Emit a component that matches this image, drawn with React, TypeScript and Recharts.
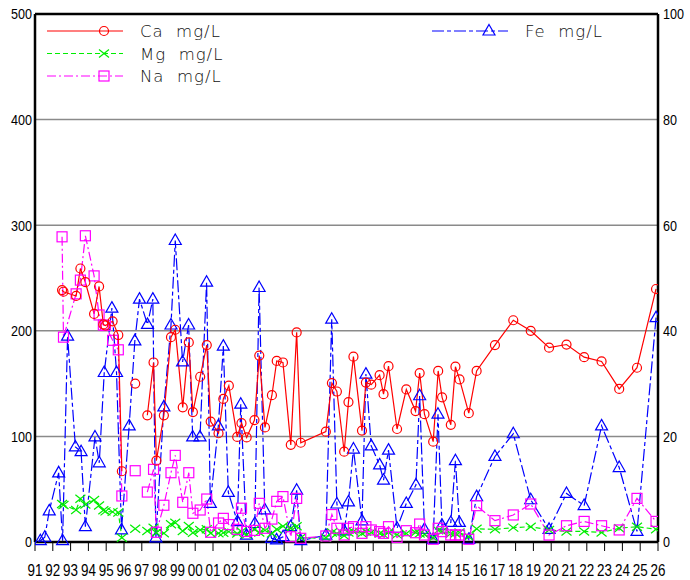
import React from 'react';
import { LineChart, Line, XAxis, YAxis, CartesianGrid, ReferenceLine, Legend } from 'recharts';

// Sample dates (decimal years) shared by Ca / Mg / Na; null rows break the lines
const ionYears = [
  1992.52, 1992.6, 1993.31, 1993.55, 1993.83, 1994.32, 1994.6, 1994.84, 1994.96, 1995.36,
  1995.68, 1995.88, 1996.3, 1996.63, 1997.0, 1997.31, 1997.66, 1997.82, 1998.24, 1998.64,
  1998.88, 1999.3, 1999.64, 1999.87, 2000.28, 2000.65, 2000.87, 2001.31, 2001.58, 2001.89,
  2002.36, 2002.6, 2002.89, 2003.33, 2003.6, 2003.92, 2004.31, 2004.58, 2004.93, 2005.37,
  2005.7, 2005.93, 2007.34, 2007.68, 2007.96, 2008.37, 2008.61, 2008.89, 2009.37, 2009.59,
  2009.89, 2010.36, 2010.58, 2010.86, 2011.34, 2011.86, 2012.38, 2012.61, 2012.88, 2013.37,
  2013.65, 2013.87, 2014.36, 2014.62, 2014.85, 2015.37, 2015.81, 2016.84, 2017.87, 2018.85,
  2019.88, 2020.86, 2021.85, 2022.83, 2023.82, 2024.82, 2025.89,
];

const caMgL = [
  238.6, 237, 233, 259, 246, 216, 242, 206, 205, 209,
  196, 67, null, 150, null, 120, 170, 77, 120, 194,
  201, 127.5, 189, 123, 156.5, 186.5, 114, 103, 135.5, 148,
  99.5, 112.5, 99, 115.5, 176.5, 108.5, 139, 171.5, 170, 92,
  198.5, 94, 104.5, 150.5, 142.5, 85.5, 132.5, 175.5, 105.5, 151,
  149, 158, 140, 166.5, 107, 144.5, 124, 160, 121, 95,
  162, 137, 111, 166, 154, 122, 162, 186.5, 210, 200,
  184, 187, 175, 171, 145, 165, 239.6,
];

const mgMgL = [
  36, 35, 30.3, 41, 35.5, 39.8, 34.5, 30, 29, 28.5,
  28, 4, null, 12.5, null, 10.4, 13.5, 8.8, 8.2, 16.8,
  18.3, 10.4, 15.2, 8.8, 11.4, 12, 8.2, 8.2, 8.8, 9.8,
  8, 10, 7, 12, 9, 11, 8, 12, 15, 13,
  15, 4, 4, 9, 8, 6, 9, 10, 8, 10,
  9, 8, 7, 9, 7, 8, 9, 8, 7, 4,
  11, 10, 8, 8, 9, 5, 12.5, 12, 13.6, 14.5,
  11.4, 10, 10, 9, 13, 14.5, 12,
];

const naMgL = [
  289, 194, 235, 248, 290, 252, 215, 205.5, 205, 191,
  182, 43.6, null, 67.5, null, 47.3, 68.8, 9.2, 34.8, 65.6,
  82, 37.6, 65.6, 27.2, 30.3, 40.7, 9.2, 18, 22.4, 16.5,
  12, 32, 10, 11, 36.6, 13, 21.7, 38.5, 43, 5,
  41.3, 3.5, 5.7, 26, 13, 6.6, 13, 14.5, 8.2, 14.5,
  11.4, 9.8, 8.2, 14.5, 4.4, 10.7, 8.8, 17, 6.6, 2.6,
  13, 9.8, 6.6, 6.6, 6.6, 2.6, 34.4, 20.2, 25.6, 36,
  6.6, 15.4, 19.5, 15.4, 11.4, 41.3, 19.5,
];

// Fe samples (right axis)
const feYears = [
  1991.3, 1991.55, 1991.8, 1992.33, 1992.55, 1992.83, 1993.27, 1993.59, 1993.83, 1994.37,
  1994.61, 1994.89, 1995.32, 1995.58, 1995.86, 1996.29, 1996.61, 1996.87, 1997.32, 1997.62,
  1997.79, 1998.24, 1998.64, 1998.88, 1999.29, 1999.63, 1999.86, 2000.27, 2000.64, 2000.85,
  2001.3, 2001.58, 2001.86, 2002.37, 2002.56, 2002.88, 2003.35, 2003.59, 2003.91, 2004.29,
  2004.57, 2004.94, 2005.36, 2005.7, 2005.93, 2007.34, 2007.67, 2007.96, 2008.37, 2008.61,
  2008.89, 2009.37, 2009.59, 2009.89, 2010.36, 2010.58, 2010.86, 2011.34, 2011.86, 2012.4,
  2012.61, 2012.88, 2013.37, 2013.64, 2013.86, 2014.36, 2014.62, 2014.84, 2015.37, 2015.81,
  2016.84, 2017.87, 2018.85, 2019.88, 2020.86, 2021.85, 2022.83, 2023.82, 2024.82, 2025.89,
];

const feMgL = [
  0.25, 0.9, 5.9, 13.1, 0.25, 39, 18, 17.1, 2.9, 19.9,
  15, 32.1, 44.3, 32.1, 2.3, 22, 38.1, 46, 41.2, 46,
  0.8, 25.6, 41.1, 57.1, 34.1, 41.1, 19.9, 19.9, 49.2, 7.3,
  22, 37.1, 9.4, 3.85, 26.1, 1.3, 3.5, 48.2, 6.1, 0.7,
  0.4, 1, 2.9, 9.8, 0.25, 1.3, 42.2, 7.2, 2.1, 7.6,
  17.6, 4, 31.8, 18.2, 14.6, 11.7, 17.4, 2.6, 7.3, 10.8,
  27.7, 2.4, 0.5, 24.2, 3.2, 3.7, 15.4, 3.7, 0.5, 8.6,
  16.2, 20.5, 8, 2.4, 9.2, 6.9, 22, 14.1, 2, 42.5,
];

const xTickYears = [
  1991, 1992, 1993, 1994, 1995, 1996, 1997, 1998, 1999, 2000, 2001, 2002,
  2003, 2004, 2005, 2006, 2007, 2008, 2009, 2010, 2011, 2012, 2013, 2014,
  2015, 2016, 2017, 2018, 2019, 2020, 2021, 2022, 2023, 2024, 2025, 2026,
];
const leftTicks = [0, 100, 200, 300, 400, 500];
const rightTicks = [0, 20, 40, 60, 80, 100];
const seriesLabels = ['Ca  mg/L', 'Mg  mg/L', 'Na  mg/L', 'Fe  mg/L'];

const ionData = ionYears.map((year, i) => ({ year, ca: caMgL[i], mg: mgMgL[i], na: naMgL[i] }));
const feData = feYears.map((year, i) => ({ year, fe: feMgL[i] }));

const RED = '#ff0000';
const GREEN = '#00ee00';
const MAGENTA = '#ff00ff';
const BLUE = '#0000ff';

const DASH_MG = '5 3';
const DASH_NA = '9 3 2 3';
const DASH_FE = '12 3 4 3';

const FONT = 'Liberation Sans';
const SCALE_X = 0.84;

function marker(kind: string, color: string, cx: number, cy: number, key?: string) {
  const sw = 1.2;
  if (kind === 'circle') return <circle key={key} cx={cx} cy={cy} r={4.5} fill="none" stroke={color} strokeWidth={sw} />;
  if (kind === 'square') return <rect key={key} x={cx - 5} y={cy - 5} width={10} height={10} fill="none" stroke={color} strokeWidth={sw} />;
  if (kind === 'triangle')
    return <path key={key} d={`M${cx},${cy - 6.5} L${cx + 6},${cy + 4} L${cx - 6},${cy + 4} Z`} fill="none" stroke={color} strokeWidth={sw} />;
  return (
    <path key={key} d={`M${cx - 5},${cy - 4} L${cx + 5},${cy + 4} M${cx - 5},${cy + 4} L${cx + 5},${cy - 4}`} fill="none" stroke={color} strokeWidth={sw} />
  );
}

const makeDot = (kind: string, color: string) => (props: any) => {
  const { cx, cy, index, value } = props;
  if (cx == null || cy == null || value == null || Number.isNaN(cy)) return <g key={`e${kind}${index}`} />;
  return marker(kind, color, cx, cy, `${kind}${index}`);
};

const LegendContent = () => {
  const rows = [
    { label: seriesLabels[0], color: RED, dash: undefined, kind: 'circle', x1: 47, x2: 123, mx: 104, tx: 140, y: 31 },
    { label: seriesLabels[1], color: GREEN, dash: DASH_MG, kind: 'cross', x1: 47, x2: 123, mx: 104, tx: 140, y: 53.5 },
    { label: seriesLabels[2], color: MAGENTA, dash: DASH_NA, kind: 'square', x1: 47, x2: 123, mx: 104, tx: 140, y: 76 },
    { label: seriesLabels[3], color: BLUE, dash: DASH_FE, kind: 'triangle', x1: 432, x2: 508, mx: 489, tx: 525, y: 31 },
  ];
  return (
    <svg width={690} height={90} style={{ display: 'block' }}>
      {rows.map((r) => (
        <g key={r.label}>
          <line x1={r.x1} x2={r.x2} y1={r.y} y2={r.y} stroke={r.color} strokeWidth={1.2} strokeDasharray={r.dash} />
          {marker(r.kind, r.color, r.mx, r.y)}
          <text x={r.tx} y={r.y + 6} fontSize={16.5} fontFamily="DejaVu Sans" fontWeight={300}
            letterSpacing={1} fill="#111" style={{ whiteSpace: 'pre' }}>
            {r.label}
          </text>
        </g>
      ))}
    </svg>
  );
};

const fmtYear = (v: number) => String(v % 100).padStart(2, '0');

const XTick = (props: any) => {
  const { x, y, payload } = props;
  return (
    <g transform={`translate(${x},${y + 14}) scale(${SCALE_X},1)`}>
      <text x={0} y={0} dy="0.71em" textAnchor="middle" fontSize={16} fontFamily={FONT} fill="#000">
        {fmtYear(payload.value)}
      </text>
    </g>
  );
};

const YTickLeft = (props: any) => {
  const { x, y, payload } = props;
  return (
    <g transform={`translate(${x + 1},${y}) scale(${SCALE_X},1)`}>
      <text x={0} y={0} dy="0.355em" textAnchor="end" fontSize={15} fontFamily={FONT} fill="#000">
        {payload.value}
      </text>
    </g>
  );
};

const YTickRight = (props: any) => {
  const { x, y, payload } = props;
  return (
    <g transform={`translate(${x + 1},${y}) scale(${SCALE_X},1)`}>
      <text x={0} y={0} dy="0.355em" textAnchor="start" fontSize={15} fontFamily={FONT} fill="#000">
        {payload.value}
      </text>
    </g>
  );
};

export default function App() {
  return (
    <div style={{ position: 'absolute', left: 0, top: 0, width: 690, height: 580, background: '#fff' }}>
      <LineChart width={690} height={580} margin={{ top: 14, right: 0, bottom: 0, left: 0 }}>
        <CartesianGrid yAxisId="left" vertical={false} stroke="#8a8a8a" strokeWidth={1.5} />
        <XAxis
          dataKey="year"
          type="number"
          domain={[1991, 2026]}
          ticks={xTickYears}
          interval={0}
          height={38}
          allowDataOverflow
          axisLine={{ stroke: '#000', strokeWidth: 2.5 }}
          tickLine={{ stroke: '#000', strokeWidth: 1 }}
          tickSize={9}
          tickMargin={0}
          tick={<XTick />}
        />
        <YAxis
          yAxisId="left"
          orientation="left"
          domain={[0, 500]}
          ticks={leftTicks}
          width={35}
          interval={0}
          axisLine={{ stroke: '#000', strokeWidth: 2.5 }}
          tickLine={false}
          tickSize={2}
          tickMargin={2}
          tick={<YTickLeft />}
        />
        <YAxis
          yAxisId="right"
          orientation="right"
          domain={[0, 100]}
          ticks={rightTicks}
          width={32}
          interval={0}
          axisLine={{ stroke: '#000', strokeWidth: 2.5 }}
          tickLine={false}
          tickSize={2}
          tickMargin={2}
          tick={<YTickRight />}
        />
        <ReferenceLine yAxisId="left" y={500} stroke="#000" strokeWidth={2.5} />
        <Legend verticalAlign="middle" align="center" layout="horizontal" content={LegendContent}
          wrapperStyle={{ position: 'absolute', top: 0, left: 0, width: 690, height: 90, pointerEvents: 'none' }} />
        <Line yAxisId="right" data={feData} dataKey="fe" name="Fe mg/L" stroke={BLUE} strokeWidth={1.2}
          strokeDasharray={DASH_FE} dot={makeDot('triangle', BLUE)} activeDot={false} isAnimationActive={false} type="linear" />
        <Line yAxisId="left" data={ionData} dataKey="mg" name="Mg mg/L" stroke={GREEN} strokeWidth={1.2}
          strokeDasharray={DASH_MG} dot={makeDot('cross', GREEN)} activeDot={false} isAnimationActive={false} type="linear" />
        <Line yAxisId="left" data={ionData} dataKey="na" name="Na mg/L" stroke={MAGENTA} strokeWidth={1.2}
          strokeDasharray={DASH_NA} dot={makeDot('square', MAGENTA)} activeDot={false} isAnimationActive={false} type="linear" />
        <Line yAxisId="left" data={ionData} dataKey="ca" name="Ca mg/L" stroke={RED} strokeWidth={1.2}
          dot={makeDot('circle', RED)} activeDot={false} isAnimationActive={false} type="linear" />
      </LineChart>
    </div>
  );
}
